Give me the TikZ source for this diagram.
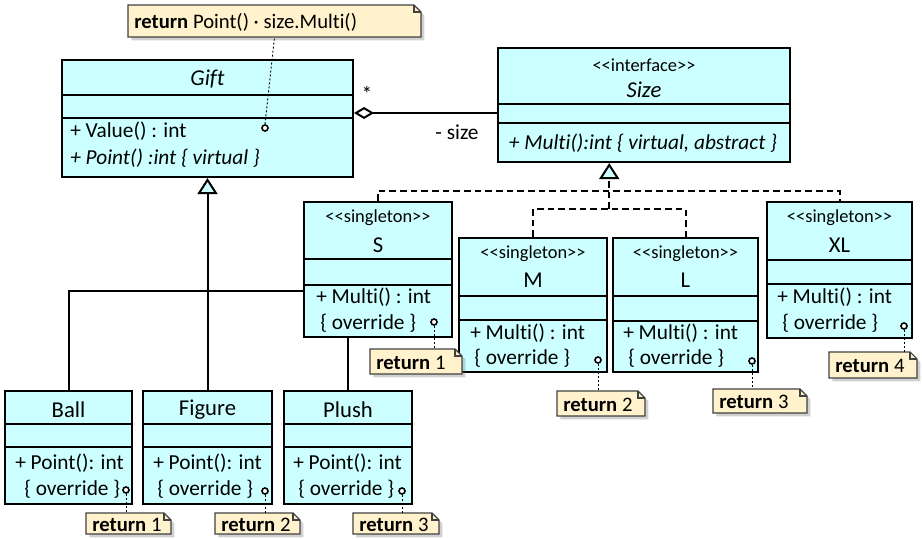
\documentclass[tikz,border=0pt]{standalone}
\usepackage{fontspec}
\setmainfont{Carlito}[Ligatures=NoCommon]
\usetikzlibrary{arrows.meta, fit, calc, backgrounds, shadows}
\definecolor{classcyan}{HTML}{CCFFFF}
\definecolor{notefill}{HTML}{FFF2CC}
\definecolor{noteedge}{HTML}{404040}

\tikzset{
  classbox/.style={draw, fill=classcyan, line width=1.6pt, inner sep=0pt},
  divider/.style={line width=1.6pt},
  classname/.style={font=\fontsize{17}{19}\selectfont, inner sep=0pt},
  stereotype/.style={font=\fontsize{13.8}{15}\selectfont, inner sep=0pt},
  member/.style={font=\fontsize{16}{18}\selectfont, inner sep=0pt, anchor=west},
  notebody/.style={fill=notefill, draw=noteedge, line width=0.8pt,
    drop shadow={shadow xshift=2.5pt, shadow yshift=-2.5pt, opacity=0.3, fill=black!60}},
  notetext/.style={font=\fontsize{15.5}{17}\selectfont, inner sep=0pt, anchor=west},
  notedot/.style={circle, draw, fill=white, line width=1.2pt, inner sep=0pt, minimum size=4.5pt},
  notelink/.style={line width=0.7pt, dash pattern=on 1.5pt off 1.5pt},
  inherits/.style={line width=1.5pt, -{Triangle[length=12pt, width=15pt, fill=classcyan]}},
  realizes/.style={line width=1.5pt, dash pattern=on 5pt off 3pt},
  aggregation/.style={line width=1.5pt, -{Diamond[length=15pt, width=9pt, fill=white]}},
}

% class box: name, left, top, right, bottom, first divider, second divider
\newcommand{\classbox}[7]{%
  \node[classbox, fit={(#2,#3) (#4,#5)}] (#1) {};
  \draw[divider] (#2,#6) -- (#4,#6);
  \draw[divider] (#2,#7) -- (#4,#7);
}

% note with folded corner: name, left, top, right, bottom, text
\newcommand{\notebox}[6]{%
  \path[notebody] (#2,#3) -- (#4-7,#3) -- (#4,#3+7) -- (#4,#5) -- (#2,#5) -- cycle;
  \draw[draw=noteedge, line width=0.8pt] (#4-7,#3) -- (#4-7,#3+7) -- (#4,#3+7);
  \node[fit={(#2,#3) (#4,#5)}, inner sep=0pt] (#1) {};
  \node[notetext] (#1-text) at (#2+6,{(#3+#5)/2+1}) {#6};
}

\newcommand{\stereo}[1]{<\kern0pt<#1>\kern0pt>}

\begin{document}
\begin{tikzpicture}[x=0.75pt, y=-0.75pt]
  \useasboundingbox (0,0) rectangle (922,539);

  % Gift
  \classbox{gift}{62}{60}{353}{177}{95}{118}
  \node[classname] (giftName) at (207.5,79) {\itshape Gift};
  \node[member] (giftValue) at (70,131) {+ Value() : int};
  \node[member] (giftPoint) at (70,158) {\itshape + Point() :int \{ virtual \}};

  % Size interface
  \classbox{size}{498}{48}{790}{162}{104}{123}
  \node[stereotype] (sizeStereo) at (644,65) {\stereo{interface}};
  \node[classname] (sizeName) at (644,90) {\itshape Size};
  \node[member, anchor=center] (sizeMulti) at (643,143) {\itshape + Multi():int \{ virtual, abstract \}};

  % Singletons
  \classbox{sizeS}{304}{202}{452}{337}{259}{285}
  \node[stereotype] (sStereo) at (378,218) {\stereo{singleton}};
  \node[classname] (sName) at (378,245) {S};
  \node[member] (sMulti) at (316,297) {+ Multi() : int};
  \node[member] (sOverride) at (320,323) {\{ override \}};

  \classbox{sizeM}{459}{238}{607}{372}{296}{320}
  \node[stereotype] (mStereo) at (533,254) {\stereo{singleton}};
  \node[classname] (mName) at (533,280) {M};
  \node[member] (mMulti) at (470,333) {+ Multi() : int};
  \node[member] (mOverride) at (474,358) {\{ override \}};

  \classbox{sizeL}{613}{238}{758}{372}{296}{321}
  \node[stereotype] (lStereo) at (685.5,254) {\stereo{singleton}};
  \node[classname] (lName) at (685.5,280) {L};
  \node[member] (lMulti) at (623,333) {+ Multi() : int};
  \node[member] (lOverride) at (628,358) {\{ override \}};

  \classbox{sizeXL}{767}{202}{912}{338}{260}{284}
  \node[stereotype] (xlStereo) at (839.5,218) {\stereo{singleton}};
  \node[classname] (xlName) at (839.5,245) {XL};
  \node[member] (xlMulti) at (777,297) {+ Multi() : int};
  \node[member] (xlOverride) at (782,323) {\{ override \}};

  % Gift kinds
  \classbox{ball}{5}{391}{132}{504}{424}{447}
  \node[classname] (ballName) at (68.5,410) {Ball};
  \node[member] (ballPoint) at (15,463) {+ Point(): int};
  \node[member] (ballOverride) at (24,489) {\{ override \}};

  \classbox{figure}{143}{391}{272}{504}{424}{447}
  \node[classname] (figureName) at (207.5,410) {Figure};
  \node[member] (figurePoint) at (153,463) {+ Point(): int};
  \node[member] (figureOverride) at (157,489) {\{ override \}};

  \classbox{plush}{284}{391}{412}{504}{424}{447}
  \node[classname] (plushName) at (348,410) {Plush};
  \node[member] (plushPoint) at (293,463) {+ Point(): int};
  \node[member] (plushOverride) at (298,489) {\{ override \}};

  % Association labels
  \node[member, anchor=center] (aggMult) at (367,94) {*};
  \node[member, anchor=center] (aggRole) at (457,132) {- size};

  % Connectors behind the boxes
  \begin{scope}[on background layer]
    \draw[inherits] (figure.north) -- (gift.south);
    \draw[line width=1.5pt] (ball.north) -- ++(0,-99) -| (plush.north);

    \draw[realizes] (sizeS.north) -- ++(0,-10) -| (sizeXL.north);
    \draw[realizes] (sizeM.north) -- ++(0,-28) -| (sizeL.north);
    \coordinate (midML) at ($(sizeM.north)!0.5!(sizeL.north)$);
    \draw[realizes, inherits] ([yshift=21pt]midML) -- (midML |- size.south);

    \coordinate (aggEnd) at ([yshift=-6pt]size.west);
    \draw[aggregation] (aggEnd) -- (aggEnd -| gift.east);
  \end{scope}

  % Note anchors
  \node[notedot] (giftDot) at (265,128) {};
  \node[notedot] (sDot) at (434,322) {};
  \node[notedot] (mDot) at (598,360) {};
  \node[notedot] (lDot) at (752,361) {};
  \node[notedot] (xlDot) at (904,326) {};
  \node[notedot] (ballDot) at (126,490) {};
  \node[notedot] (figureDot) at (265,491) {};
  \node[notedot] (plushDot) at (402,491) {};

  % Notes
  \notebox{topNote}{128}{5}{421}{37}{\textbf{return} Point() · size.Multi()}
  \notebox{sNote}{370}{349}{462}{374}{\textbf{return} 1}
  \notebox{mNote}{557}{391}{645}{416}{\textbf{return} 2}
  \notebox{lNote}{713}{389}{807}{413}{\textbf{return} 3}
  \notebox{xlNote}{829}{352}{917}{378}{\textbf{return} 4}
  \notebox{ballNote}{86}{513}{171}{534}{\textbf{return} 1}
  \notebox{figureNote}{215}{513}{300}{534}{\textbf{return} 2}
  \notebox{plushNote}{353}{513}{439}{534}{\textbf{return} 3}

  % Note links
  \draw[notelink] (giftDot.north) -- (topNote.south);
  \draw[notelink] (sDot.south) -- (sDot |- sNote.north);
  \draw[notelink] (mDot.south) -- (mDot |- mNote.north);
  \draw[notelink] (lDot.south) -- (lDot |- lNote.north);
  \draw[notelink] (xlDot.south) -- (xlDot |- xlNote.north);
  \draw[notelink] (ballDot.south) -- (ballDot |- ballNote.north);
  \draw[notelink] (figureDot.south) -- (figureDot |- figureNote.north);
  \draw[notelink] (plushDot.south) -- (plushDot |- plushNote.north);
\end{tikzpicture}
\end{document}
